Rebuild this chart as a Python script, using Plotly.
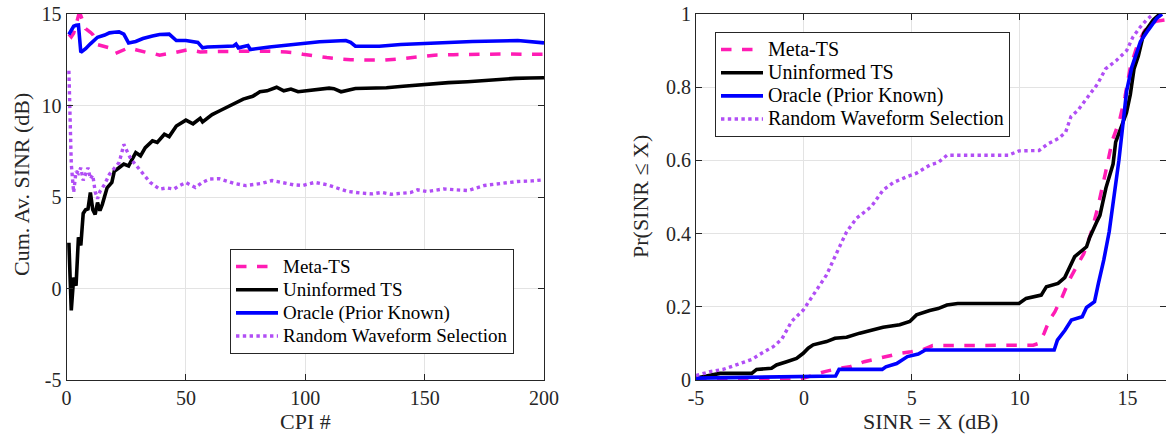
import plotly.graph_objects as go

# ---------------- Left panel data: cumulative average SINR vs CPI ----------------
meta_cpi = [1, 2, 3, 5, 6, 8, 10, 11, 13, 15, 18, 20, 23, 26, 29, 31, 35, 37, 39, 42, 45, 51, 56, 65, 75,
            84, 92, 96, 99, 104, 109, 114, 119, 126, 133, 140, 147, 154, 162, 170, 178, 186, 193, 200]
meta_sinr = [13.9, 13.75, 13.95, 14.9, 14.9, 14.2, 14.0, 13.88, 13.33, 13.25, 13.15, 12.82, 13.0, 13.15,
             13.05, 12.97, 12.85, 12.82, 12.75, 12.82, 12.88, 13.05, 12.93, 12.95, 12.95, 12.97, 12.92,
             12.88, 12.8, 12.7, 12.62, 12.55, 12.5, 12.48, 12.48, 12.55, 12.65, 12.75, 12.78, 12.8, 12.82,
             12.82, 12.8, 12.8]

unin_cpi = [1, 2, 3, 4, 5, 6, 7, 8, 9, 10, 11, 12, 13, 14, 15, 16, 17, 19, 20, 22, 24, 26, 27, 29, 31,
            33, 36, 38, 41, 43, 46, 50, 53, 56, 57, 61, 64, 67, 70, 74, 78, 81, 84, 88, 91, 94, 97, 101,
            107, 110, 112, 115, 121, 127, 134, 141, 150, 160, 168, 178, 188, 194, 200]
unin_sinr = [2.5, -1.2, 0.6, 0.15, 2.8, 2.35, 4.1, 4.3, 4.35, 5.25, 4.3, 4.05, 4.7, 4.25, 4.6, 5.07, 5.5,
             5.8, 6.4, 6.6, 6.8, 6.7, 6.98, 7.43, 7.25, 7.7, 8.07, 7.98, 8.43, 8.3, 8.88, 9.2, 9.0, 9.3,
             9.1, 9.5, 9.7, 9.9, 10.05, 10.35, 10.5, 10.75, 10.8, 11.0, 10.8, 10.9, 10.75, 10.8, 10.88,
             10.95, 10.92, 10.75, 10.93, 10.95, 10.97, 11.05, 11.15, 11.25, 11.3, 11.4, 11.48, 11.5, 11.52]

orc_cpi = [1, 2, 3, 4, 5, 6, 8, 10, 13, 16, 18, 20, 22, 24, 26, 29, 32, 36, 39, 43, 46, 50, 55, 57, 59,
           65, 70, 71, 72, 76, 77, 85, 98, 106, 117, 119, 121, 131, 140, 154, 170, 189, 193, 200]
orc_sinr = [13.88, 14.1, 14.33, 14.38, 14.4, 12.9, 13.1, 13.37, 13.73, 13.85, 13.97, 14.0, 14.02, 13.9,
            13.42, 13.5, 13.66, 13.8, 13.88, 13.9, 13.55, 13.55, 13.45, 13.15, 13.2, 13.22, 13.25, 13.35,
            13.15, 13.28, 13.06, 13.2, 13.37, 13.48, 13.55, 13.45, 13.24, 13.24, 13.33, 13.42, 13.5,
            13.55, 13.5, 13.42]

rnd_cpi = [1, 2, 3, 4, 5, 6, 7, 8, 9, 10, 11, 12, 13, 14, 16, 18, 20, 22, 23, 24, 25, 26, 27, 30, 33,
           35, 37, 39, 42, 45, 47, 50, 54, 57, 60, 64, 70, 75, 82, 86, 90, 95, 99, 104, 109, 113, 118,
           123, 128, 132, 136, 140, 144, 147, 151, 158, 163, 168, 175, 182, 189, 195, 200]
rnd_sinr = [11.9, 6.8, 5.25, 6.4, 6.3, 6.6, 5.9, 6.3, 6.6, 6.0, 6.2, 5.3, 4.9, 5.3, 5.7, 6.25, 6.6, 6.88,
            7.34, 7.88, 7.6, 7.35, 7.07, 6.6, 6.16, 5.8, 5.61, 5.43, 5.5, 5.43, 5.6, 5.79, 5.52, 5.8,
            5.98, 6.0, 5.75, 5.62, 5.75, 5.9, 5.8, 5.67, 5.63, 5.8, 5.67, 5.5, 5.3, 5.22, 5.17, 5.25,
            5.15, 5.2, 5.24, 5.39, 5.3, 5.44, 5.4, 5.35, 5.63, 5.76, 5.85, 5.88, 5.94]

# ---------------- Right panel data: empirical CDF of SINR ----------------
meta_x = [-5, -0.35, 0.0, 0.47, 0.97, 1.63, 2.13, 2.8, 3.8, 4.47, 4.97, 5.47, 5.97, 10.63, 10.88, 11.13,
          11.38, 11.63, 11.97, 12.3, 12.63, 12.97, 13.3, 13.63, 13.97, 14.3, 14.63, 14.88, 15.13, 15.47,
          15.8, 16.3, 16.76]
meta_p = [0.0, 0.0, 0.005, 0.014, 0.023, 0.032, 0.036, 0.05, 0.064, 0.073, 0.077, 0.082, 0.094, 0.095,
          0.1, 0.127, 0.164, 0.186, 0.227, 0.273, 0.309, 0.345, 0.4, 0.473, 0.564, 0.655, 0.709, 0.773,
          0.855, 0.918, 0.955, 0.98, 0.984]

unin_x = [-5, -3.89, -2.42, -2.19, -1.5, -1.27, -0.8, -0.34, -0.03, 0.2, 0.43, 1.05, 1.44, 1.98, 2.59,
          3.21, 3.67, 4.44, 4.91, 5.22, 5.83, 6.22, 6.63, 7.13, 9.97, 10.3, 11.0, 11.24, 11.78, 12.09,
          12.32, 12.55, 13.1, 13.25, 13.56, 13.72, 14.0, 14.33, 14.45, 14.7, 14.95, 15.13, 15.3, 15.5,
          15.75, 16.19, 16.5]
unin_p = [0.005, 0.018, 0.018, 0.029, 0.032, 0.041, 0.05, 0.059, 0.073, 0.087, 0.096, 0.105, 0.114,
          0.117, 0.128, 0.137, 0.144, 0.151, 0.16, 0.178, 0.19, 0.195, 0.205, 0.209, 0.209, 0.223, 0.232,
          0.255, 0.264, 0.28, 0.31, 0.337, 0.364, 0.39, 0.43, 0.45, 0.525, 0.59, 0.65, 0.69, 0.73, 0.78,
          0.85, 0.885, 0.947, 0.984, 1.0]

orc_x = [-5, -1.37, 1.47, 1.63, 3.63, 3.8, 4.3, 4.8, 5.3, 5.63, 11.6, 11.75, 12.1, 12.4, 12.9, 13.1,
         13.47, 13.65, 13.9, 14.15, 14.4, 14.6, 14.76, 14.96, 15.2, 15.6, 15.96, 16.35, 16.6]
orc_p = [0.005, 0.009, 0.011, 0.029, 0.029, 0.036, 0.045, 0.064, 0.071, 0.082, 0.082, 0.109, 0.136,
         0.164, 0.173, 0.198, 0.214, 0.264, 0.328, 0.405, 0.505, 0.6, 0.685, 0.79, 0.855, 0.925, 0.956,
         0.988, 1.0]

rnd_x = [-5, -4.35, -3.74, -2.96, -2.42, -1.96, -1.42, -1.03, -0.57, -0.03, 0.51, 1.05, 1.51, 1.98, 2.44,
         3.13, 3.67, 4.13, 4.75, 5.22, 5.83, 6.22, 6.63, 9.47, 9.97, 10.9, 11.3, 11.8, 12.13, 12.38, 12.7,
         13.2, 13.6, 13.98, 14.48, 14.96, 15.25, 15.6, 15.88, 16.19]
rnd_p = [0.012, 0.023, 0.029, 0.044, 0.056, 0.073, 0.091, 0.111, 0.16, 0.191, 0.237, 0.287, 0.346, 0.405,
         0.442, 0.474, 0.519, 0.539, 0.555, 0.565, 0.587, 0.594, 0.614, 0.614, 0.626, 0.627, 0.645, 0.66,
         0.677, 0.72, 0.737, 0.776, 0.808, 0.85, 0.873, 0.9, 0.937, 0.965, 0.984, 1.0]

names = ["Meta-TS", "Uninformed TS", "Oracle (Prior Known)", "Random Waveform Selection"]
left_x_ticks = [0, 50, 100, 150, 200]
left_x_labels = ["0", "50", "100", "150", "200"]
left_y_ticks = [-5, 0, 5, 10, 15]
left_y_labels = ["-5", "0", "5", "10", "15"]
right_x_ticks = [-5, 0, 5, 10, 15]
right_x_labels = ["-5", "0", "5", "10", "15"]
right_y_ticks = [0, 0.2, 0.4, 0.6, 0.8, 1]
right_y_labels = ["0", "0.2", "0.4", "0.6", "0.8", "1"]

PINK = "#ff1cb4"
BLACK = "#000000"
BLUE = "#0000ff"
PURPLE = "#b14ef5"
FONT = "Liberation Serif"
AXC = "#262626"

styles = [dict(color=PINK, width=3.5, dash="dash"),
          dict(color=BLACK, width=3.6),
          dict(color=BLUE, width=3.6),
          dict(color=PURPLE, width=3.4, dash="dot")]


def legend_label(txt, size):
    return '<span style="font-size:%dpx">%s</span>' % (size, txt)


fig = go.Figure()
left_data = [(meta_cpi, meta_sinr), (unin_cpi, unin_sinr), (orc_cpi, orc_sinr), (rnd_cpi, rnd_sinr)]
right_data = [(meta_x, meta_p), (unin_x, unin_p), (orc_x, orc_p), (rnd_x, rnd_p)]

for i, (xs, ys) in enumerate(left_data):
    fig.add_trace(go.Scatter(x=xs, y=ys, mode="lines", name=legend_label(names[i], 19.5), line=styles[i],
                             xaxis="x", yaxis="y", legend="legend", legendrank=i + 1))
for i, (xs, ys) in enumerate(right_data):
    fig.add_trace(go.Scatter(x=xs, y=ys, mode="lines", name=legend_label(names[i], 20), line=styles[i],
                             xaxis="x2", yaxis="y2", legend="legend2", legendrank=i + 1))

W, H = 1166, 438
Lx0, Lx1 = 66.5 / W, 544 / W
Rx0, Rx1 = 696 / W, 1165.5 / W
y0, y1 = 1 - 380 / H, 1 - 14 / H

axis_common = dict(showline=True, linecolor=AXC, linewidth=1, mirror="ticks", ticks="inside",
                   ticklen=6, tickcolor=AXC, showgrid=True, gridcolor="#e3e3e3", gridwidth=1,
                   zeroline=False, tickfont=dict(family=FONT, size=20, color="#262626"),
                   automargin=False)

fig.update_layout(
    width=W, height=H,
    margin=dict(l=0, r=0, t=0, b=0),
    paper_bgcolor="white", plot_bgcolor="white",
    font=dict(family=FONT, color="#000000"),
    xaxis=dict(domain=[Lx0, Lx1], range=[0, 200], tickvals=left_x_ticks, ticktext=left_x_labels,
               anchor="y", **axis_common),
    yaxis=dict(domain=[y0, y1], range=[-5, 15], tickvals=left_y_ticks, ticktext=left_y_labels,
               anchor="x", **axis_common),
    xaxis2=dict(domain=[Rx0, Rx1], range=[-5, 16.76], tickvals=right_x_ticks, ticktext=right_x_labels,
                anchor="y2", **axis_common),
    yaxis2=dict(domain=[y0, y1], range=[0, 1], tickvals=right_y_ticks, ticktext=right_y_labels,
                anchor="x2", **axis_common),
    legend=dict(x=230 / W, y=1 - 249 / H, xanchor="left", yanchor="top",
                bgcolor="white", bordercolor=AXC, borderwidth=1, itemwidth=42,
                font=dict(family=FONT, size=15.5, color="#000000"), tracegroupgap=0),
    legend2=dict(x=715 / W, y=1 - 32 / H, xanchor="left", yanchor="top",
                 bgcolor="white", bordercolor=AXC, borderwidth=1, itemwidth=42,
                 font=dict(family=FONT, size=15.5, color="#000000"), tracegroupgap=0),
    showlegend=True,
)

title_font = dict(family=FONT, size=22, color="#262626")
fig.add_annotation(text="CPI #", xref="paper", yref="paper", x=(Lx0 + Lx1) / 2, y=1 - 421 / H,
                   showarrow=False, font=title_font, xanchor="center", yanchor="middle")
fig.add_annotation(text="SINR = X (dB)", xref="paper", yref="paper", x=(Rx0 + Rx1) / 2, y=1 - 421 / H,
                   showarrow=False, font=title_font, xanchor="center", yanchor="middle")
fig.add_annotation(text="Cum. Av. SINR (dB)", xref="paper", yref="paper", x=21 / W, y=1 - 185 / H,
                   showarrow=False, font=title_font, textangle=-90, xanchor="center", yanchor="middle")
fig.add_annotation(text="Pr(SINR ≤ X)", xref="paper", yref="paper", x=641 / W, y=1 - 197 / H,
                   showarrow=False, font=title_font, textangle=-90, xanchor="center", yanchor="middle")

fig.write_html("out.html", config={"displayModeBar": False},
               post_script="document.body.style.margin='0';document.body.style.overflow='hidden';")
